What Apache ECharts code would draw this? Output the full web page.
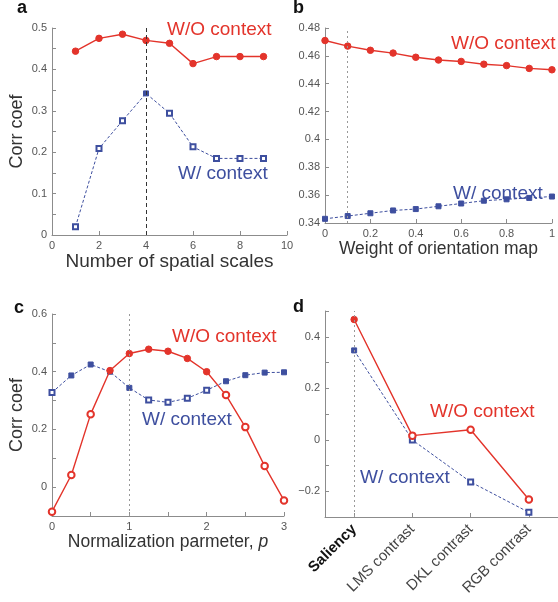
<!DOCTYPE html>
<html><head><meta charset="utf-8">
<script src="https://cdn.jsdelivr.net/npm/echarts@6/dist/echarts.min.js"></script>
<style>html,body{margin:0;padding:0;background:#fff}#c{width:558px;height:602px}</style>
</head><body><div id="c"></div>
<script>
// ---- data ----
const aX = [1, 2, 3, 4, 5, 6, 7, 8, 9];
const aWithout = [0.444, 0.475, 0.485, 0.470, 0.463, 0.414, 0.431, 0.431, 0.431];
const aWith = [0.020, 0.209, 0.276, 0.342, 0.294, 0.213, 0.185, 0.185, 0.185];
const aMarked = 4;

const bX = [0, 0.1, 0.2, 0.3, 0.4, 0.5, 0.6, 0.7, 0.8, 0.9, 1.0];
const bWithout = [0.471, 0.467, 0.464, 0.462, 0.459, 0.457, 0.456, 0.454, 0.453, 0.451, 0.450];
const bWith = [0.343, 0.345, 0.347, 0.349, 0.350, 0.352, 0.354, 0.356, 0.357, 0.358, 0.359];
const bMarked = 0.1;

const cX = [0, 0.25, 0.5, 0.75, 1.0, 1.25, 1.5, 1.75, 2.0, 2.25, 2.5, 2.75, 3.0];
const cWithout = [-0.085, 0.042, 0.253, 0.404, 0.463, 0.478, 0.471, 0.446, 0.400, 0.319, 0.208, 0.073, -0.046];
const cWith = [0.328, 0.387, 0.425, 0.400, 0.344, 0.302, 0.294, 0.308, 0.336, 0.367, 0.388, 0.397, 0.398];
const cMarked = 1;

const dCats = ['Saliency', 'LMS contrast', 'DKL contrast', 'RGB contrast'];
const dWithout = [0.467, 0.016, 0.039, -0.232];
const dWith = [0.347, -0.001, -0.164, -0.282];

const labelWithout = 'W/O context';
const labelWith = 'W/ context';

// ---- styles ----
const RED = '#e3342b', BLUE = '#3e4f9f';
const FONT = 'Liberation Sans, Arial, sans-serif';
const AX = '#8c8c8c';
// indices drawn with open markers
const openA_W = [0, 1, 2, 4, 5, 6, 7, 8];
const openC_WO = [0, 1, 2, 9, 10, 11, 12];
const openC_W = [0, 5, 6, 7, 8];
const openD = [1, 2, 3];

function pts(xs, ys, openIdx, base) {
  return ys.map((y, i) => {
    const v = xs ? [xs[i], y] : y;
    return openIdx.includes(i) ? { value: v, symbol: 'empty' + base } : { value: v };
  });
}
function fmtNum(v) { let s = String(+(+v).toFixed(3)); return s.replace('-', '\u2212'); }
function every(step) {
  return v => (Math.abs(Math.round(v / step) * step - v) < 1e-6) ? fmtNum(v) : '';
}
function vAxis(gi, min, max, interval, fmt, extra) {
  return Object.assign({
    type: 'value', gridIndex: gi, min, max, interval,
    axisLine: { show: true, onZero: false, lineStyle: { color: AX, width: 1 } },
    axisTick: { show: true, inside: true, length: 4, lineStyle: { color: AX } },
    splitLine: { show: false },
    axisLabel: { color: '#555', fontSize: 11, fontFamily: FONT, margin: 5, formatter: fmt, showMinLabel: true, showMaxLabel: true },
    nameTextStyle: { color: '#333', fontSize: 18, fontFamily: FONT }
  }, extra || {});
}
function mline(v, color, type) {
  return { symbol: 'none', silent: true, label: { show: false },
    lineStyle: { color: color, type: type, width: 1 }, data: [{ xAxis: v }] };
}
function redS(gi, data, ml) {
  return { type: 'line', xAxisIndex: gi, yAxisIndex: gi, data, symbol: 'circle', symbolSize: 6.5,
    itemStyle: { color: RED, borderColor: RED, borderWidth: 1 }, lineStyle: { color: RED, width: 1.4 },
    z: 3, animation: false, markLine: ml };
}
function blueS(gi, data) {
  return { type: 'line', xAxisIndex: gi, yAxisIndex: gi, data, symbol: 'rect', symbolSize: 5,
    itemStyle: { color: BLUE, borderColor: BLUE, borderWidth: 1 }, lineStyle: { color: BLUE, width: 1, type: [3, 2] },
    z: 2, animation: false };
}
function txt(left, top, text, color, size, weight) {
  return { type: 'text', left, top, style: { text, fill: color, font: (weight || 'normal') + ' ' + size + 'px ' + FONT } };
}

const chart = echarts.init(document.getElementById('c'), null, { renderer: 'canvas' });
chart.setOption({
  backgroundColor: '#fff',
  animation: false,
  grid: [
    { left: 52, top: 28, width: 235, height: 207 },
    { left: 325, top: 28, width: 233, height: 195 },
    { left: 52, top: 314, width: 232, height: 202 },
    { left: 325, top: 311, width: 233, height: 206 }
  ],
  xAxis: [
    vAxis(0, 0, 10, 2, every(2), { name: 'Number of spatial scales', nameLocation: 'middle', nameGap: 15,
      nameTextStyle: { color: '#333', fontSize: 19, fontFamily: FONT } }),
    vAxis(1, 0, 1, 0.2, every(0.2), { name: 'Weight of orientation map', nameLocation: 'middle', nameGap: 15,
      nameTextStyle: { color: '#333', fontSize: 17.5, fontFamily: FONT } }),
    vAxis(2, 0, 3, 0.5, every(1), { name: '{n|Normalization parmeter, }{p|p}', nameLocation: 'middle', nameGap: 12,
      nameTextStyle: { color: '#333', fontSize: 17.5, fontFamily: FONT,
        rich: { n: { fontSize: 17.5, fontFamily: FONT, color: '#333' }, p: { fontSize: 17.5, fontFamily: FONT, color: '#333', fontStyle: 'italic' } } } }),
    { type: 'category', gridIndex: 3, data: dCats, boundaryGap: true,
      axisLine: { show: true, onZero: false, lineStyle: { color: AX, width: 1 } },
      axisTick: { show: true, inside: true, length: 4, alignWithLabel: true, lineStyle: { color: AX } },
      splitLine: { show: false },
      axisLabel: { rotate: 45, interval: 0, margin: 10, color: '#444', fontSize: 15, fontFamily: FONT,
        formatter: v => v === 'Saliency' ? '{b|' + v + '}' : v,
        rich: { b: { fontWeight: 'bold', color: '#111', fontSize: 15, fontFamily: FONT } } } }
  ],
  yAxis: [
    vAxis(0, 0, 0.5, 0.05, every(0.1), { name: 'Corr coef', nameLocation: 'middle', nameGap: 26 }),
    vAxis(1, 0.34, 0.48, 0.02, every(0.02)),
    vAxis(2, -0.1, 0.6, 0.1, v => (v > -0.01 && Math.abs(Math.round(v / 0.2) * 0.2 - v) < 1e-6) ? fmtNum(v) : '',
      { name: 'Corr coef', nameLocation: 'middle', nameGap: 26 }),
    vAxis(3, -0.3, 0.5, 0.1, v => (v > -0.25 && v < 0.45 && Math.abs(Math.round(v / 0.2) * 0.2 - v) < 1e-6) ? fmtNum(v) : '')
  ],
  series: [
    redS(0, pts(aX, aWithout, [], 'Circle'), mline(aMarked, '#333', [4, 3])),
    blueS(0, pts(aX, aWith, openA_W, 'Rect')),
    redS(1, pts(bX, bWithout, [], 'Circle'), mline(bMarked, '#999', [2, 3])),
    blueS(1, pts(bX, bWith, [], 'Rect')),
    redS(2, pts(cX, cWithout, openC_WO, 'Circle'), mline(cMarked, '#999', [2, 3])),
    blueS(2, pts(cX, cWith, openC_W, 'Rect')),
    redS(3, pts(null, dWithout, openD, 'Circle'), mline(dCats[0], '#999', [2, 3])),
    blueS(3, pts(null, dWith, openD, 'Rect'))
  ],
  graphic: [
    txt(17, -1, 'a', '#111', 18, 'bold'),
    txt(293, -1, 'b', '#111', 18, 'bold'),
    txt(14, 299, 'c', '#111', 18, 'bold'),
    txt(293, 298, 'd', '#111', 18, 'bold'),
    txt(167, 20, labelWithout, RED, 19),
    txt(178, 164, labelWith, BLUE, 19),
    txt(451, 34, labelWithout, RED, 19),
    txt(453, 184, labelWith, BLUE, 19),
    txt(172, 327, labelWithout, RED, 19),
    txt(142, 410, labelWith, BLUE, 19),
    txt(430, 402, labelWithout, RED, 19),
    txt(360, 468, labelWith, BLUE, 19)
  ]
});
</script>
</body></html>
